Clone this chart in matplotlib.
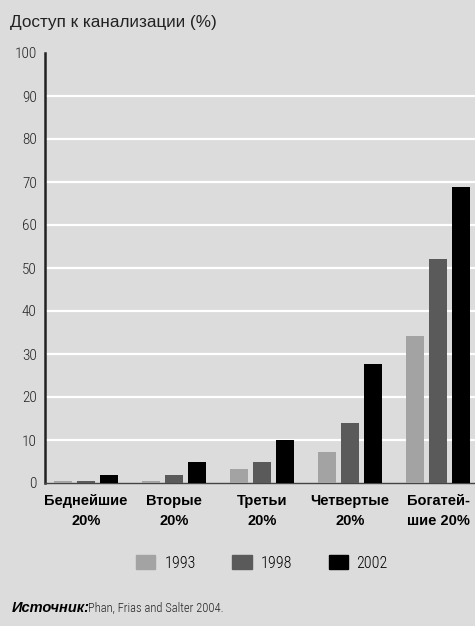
import numpy as np
import matplotlib.pyplot as plt
from matplotlib.patches import Patch

groups = ["Беднейшие\n20%", "Вторые\n20%", "Третьи\n20%", "Четвертые\n20%", "Богатей-\nшие 20%"]
years = ["1993", "1998", "2002"]
v1993 = [0.5, 0.5, 3.3, 7.2, 34.2]
v1998 = [0.5, 1.8, 4.9, 13.9, 52.1]
v2002 = [1.8, 4.9, 10.1, 27.7, 68.9]
yticks = [0, 10, 20, 30, 40, 50, 60, 70, 80, 90, 100]

colors = ["#a3a3a3", "#5a5a5a", "#000000"]
bg = "#dcdcdc"
narrow = ["Roboto Condensed", "DejaVu Sans"]
plt.rcParams['font.family'] = ["Liberation Sans", "DejaVu Sans"]

fig = plt.figure(figsize=(4.75, 6.26), dpi=100, facecolor=bg)
ax = fig.add_axes([45 / 475, 143 / 626, 1 - 45 / 475, 430 / 626])
ax.set_facecolor(bg)

x = np.arange(len(groups))
step, w = 0.262, 0.205
for i, (vals, c, lab) in enumerate(zip([v1993, v1998, v2002], colors, years)):
    ax.bar(x + (i - 1) * step, vals, width=w, color=c, label=lab, zorder=3)

ax.set_ylim(0, 100)
ax.set_xlim(-0.466, 4.42)
ax.hlines(yticks[1:-1], -0.466, 4.42, colors="white", lw=1.6, zorder=1)
ax.set_yticks(yticks)
ax.set_yticklabels([str(t) for t in yticks], family=narrow, fontweight="light",
                   fontsize=11, color="#222222")
ax.tick_params(axis="y", length=0, pad=6)
ax.set_xticks(x)
ax.set_xticklabels(groups, fontweight="bold", fontsize=10.5, linespacing=1.5)
ax.tick_params(axis="x", length=0, pad=8)
for s in ["top", "right"]:
    ax.spines[s].set_visible(False)
ax.spines["left"].set_linewidth(1.8)
ax.spines["left"].set_color("#222222")
ax.spines["bottom"].set_linewidth(1.0)
ax.spines["bottom"].set_color("#444444")

fig.text(10 / 475, 1 - 22 / 626, "Доступ к канализации (%)", fontsize=12.3,
         va="center", ha="left", color="#222222")

handles = [Patch(color=c) for c in colors]
fig.legend(handles, years, loc="center", bbox_to_anchor=(262 / 475, 1 - 563 / 626),
           ncol=3, frameon=False, handlelength=1.2, handleheight=1.0,
           columnspacing=2.3, handletextpad=0.55,
           prop={"family": narrow, "size": 11.5, "weight": "light"})

fig.text(12 / 475, 1 - 608 / 626, "Источник:", fontsize=10.5, fontweight="bold",
         style="italic", va="center", ha="left")
fig.text(88 / 475, 1 - 608 / 626, "Phan, Frias and Salter 2004.", fontsize=9,
         family=narrow, fontweight="light", va="center", ha="left", color="#222222")

fig.savefig("out.png", dpi=100, facecolor=bg)
